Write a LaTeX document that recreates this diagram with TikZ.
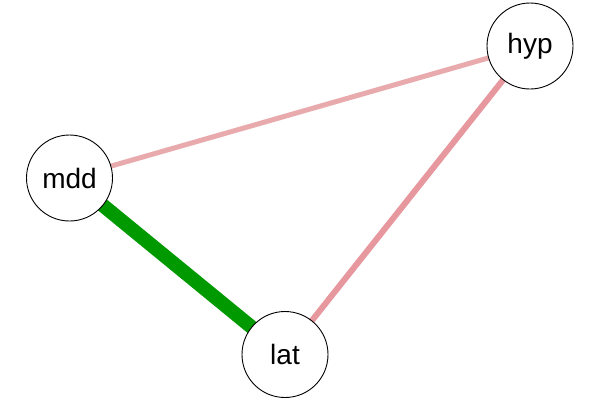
\documentclass[tikz,border=0pt]{standalone}
\usepackage{fontspec}
\setmainfont{Liberation Sans}
\usetikzlibrary{backgrounds}
\begin{document}
\begin{tikzpicture}[x=1pt,y=-1pt,
  vertex/.style={circle,draw=black,line width=0.9pt,fill=white,minimum size=86pt,inner sep=0pt,font=\fontsize{28}{32}\selectfont},
  posedge/.style={draw={rgb,255:red,0;green,153;blue,0},line width=14pt},
  weakneg/.style={draw={rgb,255:red,232;green,170;blue,172},line width=5pt},
  negedge/.style={draw={rgb,255:red,230;green,152;blue,158},line width=6pt}]
\useasboundingbox (0,0) rectangle (600,400);
\node[vertex] (mdd) at (69.5,178) {mdd};
\node[vertex] (hyp) at (530,46) {hyp};
\node[vertex] (lat) at (285,354.5) {lat};
\begin{scope}[on background layer]
  \path[weakneg] (mdd.center) -- (hyp.center);
  \path[negedge] (hyp.center) -- (lat.center);
  \path[posedge] (mdd.center) -- (lat.center);
\end{scope}
\end{tikzpicture}
\end{document}
